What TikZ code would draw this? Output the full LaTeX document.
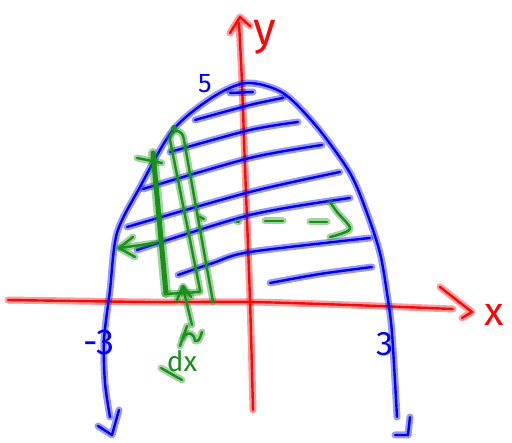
\documentclass[tikz,border=0pt]{standalone}
\usepackage{fontspec}
\setmainfont{Fira Sans}
\definecolor{pblue}{RGB}{0,0,245}
\definecolor{pred}{RGB}{245,10,10}
\definecolor{pgreen}{RGB}{25,145,25}
\tikzset{
  pen/.style={line width=2.4pt, line cap=round, line join=round},
  bluepen/.style={pen, draw=pblue, preaction={draw=pblue, draw opacity=0.4, line width=7pt, line cap=round, line join=round}},
  redpen/.style={pen, draw=pred, preaction={draw=pred, draw opacity=0.4, line width=7pt, line cap=round, line join=round}},
  greenpen/.style={pen, draw=pgreen, preaction={draw=pgreen, draw opacity=0.4, line width=7pt, line cap=round, line join=round}},
  greenband/.style={line width=5pt, line cap=round, draw=pgreen, preaction={draw=pgreen, draw opacity=0.4, line width=10pt, line cap=round}},
  handtext/.style={inner sep=0pt, font=\fontsize{#1}{#1}\selectfont},
}
\begin{document}
\begin{tikzpicture}[x=1pt,y=-1pt]
\useasboundingbox (0,0) rectangle (512,443);
% axes
\draw[redpen] plot[smooth] coordinates {(8,300) (150,302) (250,302) (350,305) (453,309)};
\draw[redpen] (440,287) -- (472,312) -- (462,318);
\draw[redpen] plot[smooth] coordinates {(253,410) (250,300) (245,167) (242,83) (239,23)};
\draw[redpen] (230,33) -- (240,17) -- (250,26);
\node[handtext=46pt, text=pred] (ylabel) at (265,37) {y};
\node[handtext=40pt, text=pred] (xlabel) at (494,315) {x};
% parabola
\draw[bluepen] plot[smooth] coordinates {(110,417) (105,383) (104,340) (110,290) (117,233) (140,187) (173,130) (213,97) (247,83) (283,93) (317,127) (350,173) (367,213) (380,253) (387,293) (392,333) (397,417)};
\draw[bluepen] (98,426) -- (112,435) -- (119,410);
\draw[bluepen] (395,435) -- (408,435) -- (410,417);
\node[handtext=27pt, text=pblue] (top) at (205,84) {5};
\node[handtext=36pt, text=pblue] (leftroot) at (99,342) {-3};
\node[handtext=34pt, text=pblue] (rightroot) at (385,344) {3};
% horizontal strips
\draw[bluepen] (230,93) -- (253,92);
\draw[bluepen] plot[smooth] coordinates {(195,120) (250,105) (283,98)};
\draw[bluepen] plot[smooth] coordinates {(170,152) (250,130) (298,122)};
\draw[bluepen] plot[smooth] coordinates {(143,189) (250,158) (322,145)};
\draw[bluepen] plot[smooth] coordinates {(127,227) (250,192) (340,172)};
\draw[bluepen] plot[smooth] coordinates {(137,250) (250,215) (350,198)};
\draw[bluepen] plot[smooth] coordinates {(178,275) (213,263) (250,252) (370,238)};
\draw[bluepen] plot[smooth] coordinates {(270,283) (320,274) (372,267)};
% vertical strip
\draw[greenband] (153,153) -- (166,293);
\draw[greenpen] (137,158) -- (162,163);
\draw[greenpen] (165,294) -- (200,292);
\draw[greenpen] (200,290) -- (170,140) .. controls (170,128) and (183,128) .. (184,140) -- (213,302);
\fill[pgreen] (174,128) circle (3);
\draw[greenpen] (200,217) -- (204,219);
% arrows
\draw[greenpen] (155,243) -- (120,248);
\draw[greenpen] (133,237) -- (119,248) -- (135,257);
\draw[greenpen] (192,325) -- (183,288);
\draw[greenpen] (177,300) -- (183,286) -- (191,297);
\draw[greenpen] (187,326) -- (180,346);
\draw[greenpen] (183,338) .. controls (188,330) and (194,333) .. (195,341) .. controls (199,341) .. (202,332);
\node[handtext=28pt, text=pgreen] (dx) at (182,361) {dx};
\draw[greenpen] (161,368) -- (182,380);
% dashed guide
\draw[greenpen] (237,222) -- (239,222);
\draw[greenpen] (265,221) -- (283,221);
\draw[greenpen] (310,222) -- (327,222);
\draw[greenpen] plot[smooth] coordinates {(330,202) (337,212) (350,229) (330,237)};
\end{tikzpicture}
\end{document}
